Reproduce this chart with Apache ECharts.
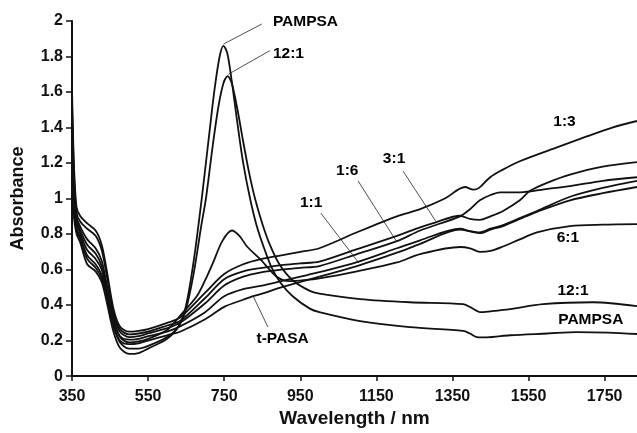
<!DOCTYPE html>
<html>
<head>
<meta charset="utf-8">
<script src="https://cdn.jsdelivr.net/npm/echarts@6/dist/echarts.min.js"></script>
<style>
html,body{margin:0;padding:0;background:#fff;}
#chart{width:637px;height:433px;}
</style>
</head>
<body>
<div id="chart"></div>
<script>
// Wavelength (nm) / absorbance pairs
const PAMPSA = [[350,1.2],[355,0.9],[362,0.8],[372,0.75],[390,0.63],[412,0.59],[428,0.53],[441,0.42],[459,0.25],[476,0.16],[500,0.125],[525,0.13],[550,0.155],[600,0.21],[630,0.28],[650,0.4],[670,0.65],[691,1.0],[710,1.35],[725,1.62],[738,1.8],[748,1.86],[758,1.82],[770,1.66],[785,1.42],[800,1.2],[818,1.0],[835,0.85],[855,0.72],[875,0.61],[900,0.52],[930,0.45],[975,0.38],[1000,0.36],[1107,0.31],[1238,0.276],[1378,0.255],[1396,0.24],[1414,0.22],[1440,0.218],[1501,0.23],[1600,0.24],[1677,0.248],[1760,0.245],[1835,0.237]];
const R12_1 = [[350,1.3],[355,0.95],[362,0.83],[372,0.78],[390,0.68],[412,0.63],[428,0.57],[441,0.46],[459,0.29],[476,0.19],[500,0.155],[525,0.155],[550,0.17],[600,0.22],[630,0.28],[650,0.38],[670,0.58],[690,0.85],[702,1.0],[720,1.3],[735,1.52],[748,1.65],[759,1.69],[770,1.65],[785,1.5],[800,1.32],[815,1.15],[831,1.0],[850,0.86],[870,0.74],[895,0.63],[930,0.54],[975,0.48],[1000,0.465],[1107,0.434],[1238,0.416],[1378,0.405],[1400,0.385],[1422,0.36],[1450,0.365],[1501,0.377],[1588,0.405],[1720,0.416],[1835,0.394]];
const R6_1 = [[350,1.45],[355,1.05],[362,0.88],[372,0.82],[390,0.74],[412,0.69],[428,0.62],[441,0.5],[459,0.32],[476,0.22],[500,0.19],[525,0.195],[550,0.21],[600,0.26],[634,0.34],[678,0.45],[700,0.54],[721,0.64],[745,0.76],[770,0.82],[790,0.79],[810,0.73],[844,0.66],[888,0.56],[923,0.535],[960,0.54],[1000,0.55],[1099,0.59],[1204,0.64],[1265,0.687],[1370,0.727],[1396,0.72],[1422,0.7],[1450,0.705],[1483,0.73],[1527,0.77],[1572,0.81],[1659,0.845],[1745,0.853],[1835,0.856]];
const R3_1 = [[350,1.55],[355,1.15],[362,0.92],[372,0.87],[390,0.83],[412,0.79],[428,0.71],[441,0.57],[459,0.36],[476,0.265],[500,0.235],[525,0.24],[550,0.25],[600,0.285],[634,0.31],[700,0.44],[750,0.546],[800,0.59],[850,0.61],[900,0.625],[950,0.635],[1000,0.645],[1099,0.715],[1204,0.79],[1265,0.838],[1304,0.865],[1370,0.903],[1396,0.885],[1422,0.88],[1450,0.9],[1483,0.93],[1527,0.99],[1554,1.044],[1600,1.09],[1659,1.135],[1745,1.18],[1835,1.205]];
const R1_1 = [[350,1.4],[355,1.0],[362,0.86],[372,0.8],[390,0.71],[412,0.66],[428,0.6],[441,0.48],[459,0.31],[476,0.225],[500,0.205],[525,0.21],[550,0.225],[600,0.25],[634,0.28],[700,0.36],[750,0.45],[800,0.49],[850,0.51],[900,0.535],[950,0.56],[1000,0.585],[1099,0.642],[1204,0.72],[1265,0.765],[1370,0.83],[1396,0.817],[1422,0.81],[1450,0.83],[1483,0.85],[1527,0.89],[1572,0.93],[1659,1.01],[1745,1.06],[1835,1.1]];
const R1_3 = [[350,1.62],[355,1.2],[362,0.95],[372,0.9],[390,0.86],[412,0.82],[428,0.74],[441,0.6],[459,0.38],[476,0.28],[500,0.25],[525,0.255],[550,0.265],[600,0.3],[634,0.33],[700,0.47],[750,0.575],[800,0.63],[850,0.66],[900,0.68],[950,0.7],[1000,0.72],[1099,0.81],[1204,0.9],[1265,0.94],[1330,1.0],[1383,1.065],[1405,1.05],[1420,1.06],[1449,1.12],[1480,1.16],[1527,1.21],[1614,1.28],[1703,1.35],[1770,1.4],[1835,1.437]];
const R1_6 = [[350,1.5],[355,1.1],[362,0.9],[372,0.84],[390,0.77],[412,0.72],[428,0.65],[441,0.52],[459,0.34],[476,0.25],[500,0.22],[525,0.225],[550,0.24],[600,0.27],[634,0.3],[700,0.41],[750,0.51],[800,0.56],[850,0.586],[900,0.6],[950,0.61],[1000,0.62],[1099,0.687],[1204,0.76],[1265,0.82],[1370,0.9],[1396,0.94],[1422,0.99],[1450,1.02],[1475,1.035],[1527,1.035],[1600,1.055],[1659,1.07],[1745,1.1],[1835,1.12]];
const tPASA = [[350,1.25],[355,0.93],[362,0.82],[372,0.77],[390,0.66],[412,0.61],[428,0.55],[441,0.44],[459,0.28],[476,0.2],[500,0.18],[525,0.185],[550,0.2],[600,0.23],[634,0.25],[700,0.32],[750,0.39],[800,0.43],[826,0.45],[850,0.465],[900,0.5],[950,0.53],[1000,0.56],[1099,0.62],[1204,0.695],[1265,0.745],[1370,0.825],[1396,0.815],[1422,0.805],[1450,0.825],[1483,0.845],[1527,0.885],[1572,0.925],[1659,0.99],[1745,1.03],[1835,1.065]];

const seriesNames = ['PAMPSA','12:1','6:1','3:1','1:1','1:3','1:6','t-PASA'];
const seriesData = [PAMPSA, R12_1, R6_1, R3_1, R1_1, R1_3, R1_6, tPASA];

const xTicks = [350,550,750,950,1150,1350,1550,1750];

// annotation labels: [text, wavelength, absorbance]
const labelTexts = ['PAMPSA','12:1','1:3','3:1','1:6','1:1','6:1','12:1','PAMPSA','t-PASA'];
const labelX = [878, 878, 1615, 1167, 1044, 949, 1624, 1626, 1628, 835];
const labelY = [1.995, 1.814, 1.43, 1.226, 1.157, 0.978, 0.777, 0.48, 0.315, 0.208];
// leader lines [x1,y1,x2,y2]
const leaders = [
  [748,1.87,849,1.983],
  [761,1.70,870,1.833],
  [1220,1.155,1306,0.873],
  [1102,1.099,1204,0.755],
  [1004,0.918,1104,0.637],
  [865,0.276,826,0.451]
];

const FONT = '"Liberation Sans", Arial, Helvetica, sans-serif';
const chart = echarts.init(document.getElementById('chart'), null, {renderer:'canvas'});

const series = seriesData.map((d,i) => ({
  name: seriesNames[i],
  type: 'line',
  data: d,
  showSymbol: false,
  smooth: 0.3,
  lineStyle: {color:'#111', width:1.8},
  silent: true,
  z: 3
}));

series.push({
  type: 'lines',
  coordinateSystem: 'cartesian2d',
  polyline: false,
  silent: true,
  lineStyle: {color:'#222', width:0.8, opacity:1},
  data: leaders.map(l => ({coords: [[l[0],l[1]],[l[2],l[3]]]})),
  z: 4
});

series.push({
  type: 'scatter',
  symbolSize: 0,
  silent: true,
  itemStyle: {opacity: 1, color: '#111'},
  data: labelTexts.map((t,i) => ({value:[labelX[i], labelY[i]], name:t})),
  label: {
    show: true,
    position: 'right',
    distance: 0,
    formatter: p => p.name,
    color: '#000',
    opacity: 1,
    fontFamily: FONT,
    fontWeight: 'bold',
    fontSize: 15.5
  },
  z: 5
});

chart.setOption({
  animation: false,
  backgroundColor: '#fff',
  grid: {left: 72, top: 21, right: 0, bottom: 56, containLabel: false},
  xAxis: {
    type: 'value',
    min: 350, max: 1835,
    name: 'Wavelength / nm',
    nameLocation: 'middle',
    nameGap: 27,
    nameTextStyle: {fontFamily: FONT, fontWeight:'bold', fontSize:19, color:'#111'},
    axisLine: {show:true, lineStyle:{color:'#111', width:2}},
    axisTick: {show:true, length:5, customValues: xTicks, lineStyle:{color:'#111', width:1.5}},
    axisLabel: {customValues: xTicks, formatter: v => String(v), fontFamily: FONT, fontWeight:'bold', fontSize:16, color:'#111', margin:12},
    splitLine: {show:false}
  },
  yAxis: {
    type: 'value',
    min: 0, max: 2, interval: 0.2,
    name: 'Absorbance',
    nameLocation: 'middle',
    nameGap: 45,
    nameRotate: 90,
    nameTextStyle: {fontFamily: FONT, fontWeight:'bold', fontSize:18, color:'#111'},
    axisLine: {show:true, lineStyle:{color:'#111', width:2}},
    axisTick: {show:true, length:6, lineStyle:{color:'#111', width:1.5}},
    axisLabel: {formatter: v => String(Math.round(v*10)/10), fontFamily: FONT, fontWeight:'bold', fontSize:16, color:'#111', margin:9},
    splitLine: {show:false}
  },
  series: series
});
</script>
</body>
</html>
